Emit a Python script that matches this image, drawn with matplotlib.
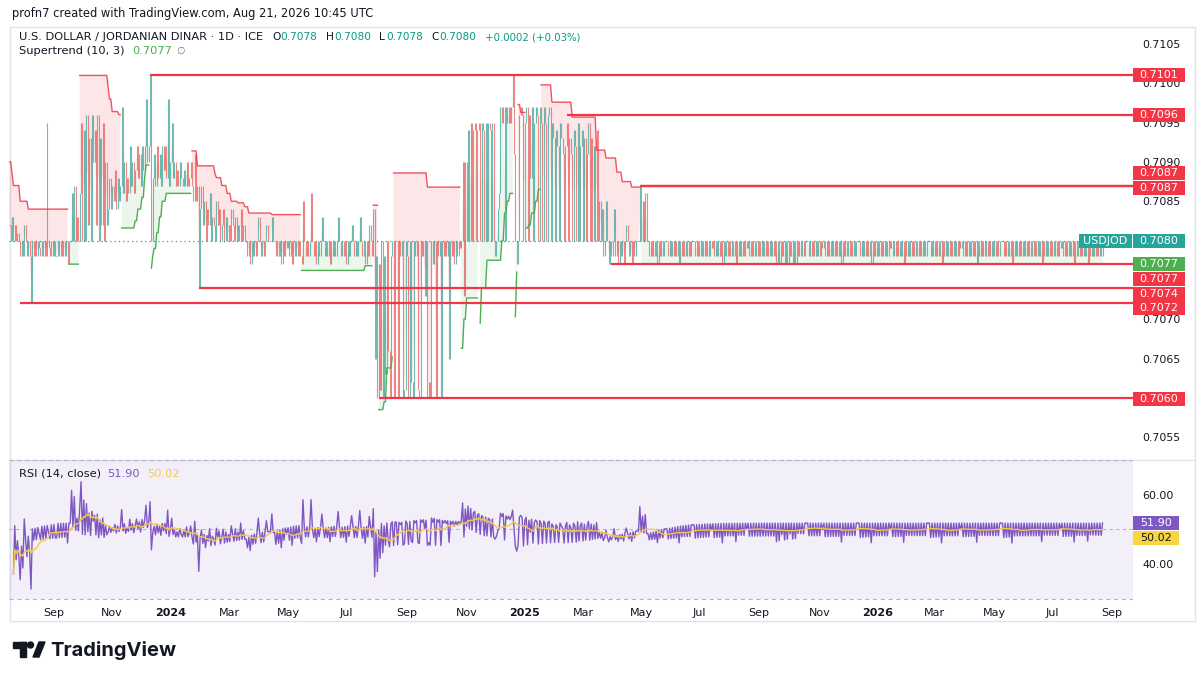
import numpy as np
import pandas as pd
import matplotlib
matplotlib.use("Agg")
import matplotlib.pyplot as plt
from matplotlib.patches import Rectangle, Ellipse, Polygon
from matplotlib.lines import Line2D

plt.rcParams['font.family'] = ['DejaVu Sans']

# daily closes in pips above 0.7000 (open = previous close)
closes_jul_sep23 = [82, 80, 83, 80, 82, 80, 81, 80, 78, 80, 78, 82, 80, 78, 80, 78,
                    72, 80, 78, 80, 78, 80, 79, 78, 80, 78, 80, 78, 80, 79,
                    78, 80, 78, 80, 78, 78, 80, 78, 80, 78, 80, 78, 80, 77, 80]
closes_sep_dec23 = [80, 86, 80, 87, 80, 83, 80, 86, 95, 80,
                    94, 80, 96, 82, 93, 80, 96, 90, 94, 82, 96, 80, 93, 82, 95, 80, 90, 82,
                    84, 88, 84, 87, 85, 89, 84, 88, 85, 87, 97,
                    86, 90, 85, 88, 86, 92, 87, 90, 86, 89, 92, 88, 91, 87, 92, 89, 92, 98,
                    90, 92, 101]
closes_dec23_jan24 = [80, 88, 91, 87, 92, 88, 91, 87, 92, 89, 92, 88, 98, 87, 90, 95,
                      88, 90, 87, 89, 87, 90, 88, 87, 89, 87, 90, 87, 88, 90, 87]
closes_jan_mar24 = [85, 91, 85, 87, 74, 84, 87, 82, 85, 80, 84, 82, 86, 80, 83, 82, 80, 85,
                    82, 84, 80, 82, 84, 80, 83, 80, 82, 80, 84, 82, 80, 83, 80, 82, 80,
                    84, 80, 82, 80]
closes_mar_may24 = [80, 78, 80, 77, 80, 78, 80, 78, 80, 83, 80, 78, 80, 78, 80, 82, 80, 80,
                    80, 83, 80, 80, 78, 80, 78, 80, 77, 80, 78, 80, 79, 80, 78, 80, 77, 80,
                    78, 80, 78, 80, 78, 77]
closes_may_jul24 = [85, 80, 78, 80, 78, 80, 86, 80, 78, 80, 77, 80, 78, 80, 83, 80, 78, 80,
                    78, 80, 77, 80, 78, 80, 78, 80, 83, 80, 78, 80, 78, 80, 77, 80, 78, 80,
                    82, 80, 78, 80, 78, 80, 83, 80, 78, 80, 77, 80, 78, 82, 80, 78]
closes_jul_oct24 = [84, 65, 78, 60, 77, 61, 80, 60, 78, 63, 80, 66, 60, 78, 80, 60, 80,
                    80, 60, 80, 78, 80, 60, 61, 80, 78, 60, 80, 62, 60, 80, 78, 80, 61, 60,
                    80, 78, 80, 73, 80, 60, 62, 60, 80, 77, 80, 60, 80, 78, 80, 60, 80, 78,
                    80, 78, 80, 65, 80, 78, 80, 77, 80, 78, 80, 79, 80]
closes_oct_dec24 = [90, 73, 90, 80, 94, 80, 95, 80, 94, 95, 80, 94, 95, 80, 95, 94, 80, 95,
                    80, 95, 94, 80, 95, 80, 78, 80, 84, 86, 97, 95, 97, 80, 97, 95, 97, 95, 97]
closes_dec24_jan25 = [101, 91, 80, 77, 80, 96, 97, 96, 80, 95, 97, 80, 96, 88, 97, 80, 95,
                      97, 96, 80, 97]
closes_jan_mar25 = [95, 80, 97, 95, 80, 96, 97, 80, 95, 93, 80, 94, 92, 80, 95, 93, 91, 80,
                    92, 95, 80, 93, 91, 80, 94, 92, 80, 95, 80, 92, 94, 80, 93, 80, 91, 95,
                    80, 93, 80, 92, 80, 94]
closes_mar_may25 = [80, 85, 80, 84, 78, 80, 85, 80, 77, 80, 78, 80, 84, 78, 80, 77, 80, 78,
                    80, 77, 80, 82, 80, 78, 80, 77, 80, 78, 80, 80, 80, 87, 80, 85, 80, 86, 80]
# May 2025 - Aug 2026: one digit per bar, pips below 0.7080
dips_may25_aug26 = ("0"
                    "2020203020200020202020302020202000202020"
                    "2020201020202030202020203020202010202020"
                    "2020202020202030302030302030302020200020"
                    "2020202010202020202020302020202020002020"
                    "2020302020202020201020202020302020202020"
                    "2020200020202020302020202020201020202020"
                    "2030202020202020202000202020302020202020"
                    "2020202020302020202020201020202020302020"
                    "2020302020202020")

# single long upper wick
wick_dates = ["2023-08-25"]
wick_highs = [95]

# Supertrend (10, 3) steps
st_dates = ["2023-07-18", "2023-07-20", "2023-07-21", "2023-07-28", "2023-08-07",
            "2023-09-18", "2023-09-28", "2023-10-27", "2023-10-30", "2023-11-01", "2023-11-08",
            "2023-11-10", "2023-11-24", "2023-11-28", "2023-12-01", "2023-12-05", "2023-12-06",
            "2023-12-11", "2023-12-12", "2023-12-13", "2023-12-14", "2023-12-18", "2023-12-20",
            "2023-12-22", "2023-12-27",
            "2024-01-23", "2024-01-29", "2024-02-15", "2024-02-16", "2024-02-22", "2024-02-28",
            "2024-03-04", "2024-03-11", "2024-03-18", "2024-03-21", "2024-04-15",
            "2024-05-15", "2024-07-19", "2024-07-29",
            "2024-08-02", "2024-08-08", "2024-08-12", "2024-08-16",
            "2024-08-19", "2024-09-23",
            "2024-10-28", "2024-10-30", "2024-11-01", "2024-11-14",
            "2024-11-15", "2024-11-18", "2024-11-22", "2024-12-09", "2024-12-11", "2024-12-13",
            "2024-12-17", "2024-12-20", "2024-12-23", "2024-12-24", "2024-12-25", "2024-12-27",
            "2025-01-02", "2025-01-06", "2025-01-08", "2025-01-13", "2025-01-15",
            "2025-01-17", "2025-01-29", "2025-02-19", "2025-03-17", "2025-03-26", "2025-04-07",
            "2025-04-11", "2025-04-22", "2025-05-01"]
st_levels = [90, 88.5, 87, 85, 84,
             77, 101, 99.5, 98, 96.4, 96,
             81.6, 82.5, 84, 85.5, 88, 89.6,
             101, 76.5, 78, 79, 81, 83,
             85, 86,
             91.4, 89.5, 88.5, 88, 87, 86,
             85, 84.8, 84.3, 83.5, 83.3,
             76.2, 76.8, 84.5,
             58.5, 59.5, 63.8, 65.2,
             88.6, 86.8,
             66.3, 70, 72.7, 95,
             69.5, 74, 77.5, 80, 83.5, 85,
             86, 101, 70.3, 76, 97.3, 96.3,
             81.6, 82, 83.5, 85, 86.5,
             99.8, 97.6, 95.7, 91.5, 90.5, 88.7,
             87.5, 86.8, 77]
st_up = [0, 0, 0, 0, 0,
         1, 0, 0, 0, 0, 0,
         1, 1, 1, 1, 1, 1,
         0, 1, 1, 1, 1, 1,
         1, 1,
         0, 0, 0, 0, 0, 0,
         0, 0, 0, 0, 0,
         1, 1, 0,
         1, 1, 1, 1,
         0, 0,
         1, 1, 1, 0,
         1, 1, 1, 1, 1, 1,
         1, 0, 1, 1, 0, 0,
         1, 1, 1, 1, 1,
         0, 0, 0, 0, 0, 0,
         0, 0, 1]

# user-drawn horizontal levels
level_prices = [0.7101, 0.7096, 0.7087, 0.7087, 0.7077, 0.7074, 0.7072, 0.7060]
level_starts = ["2023-12-11", "2025-02-13", "2025-04-30", "2025-04-30", "2025-04-01",
                "2024-01-30", "2023-07-28", "2024-08-02"]

rsi_last, rsi_ma_last = 51.90, 50.02

# ---------------------------------------------------------------- data prep
pips = (closes_jul_sep23 + closes_sep_dec23 + closes_dec23_jan24 + closes_jan_mar24 +
        closes_mar_may24 + closes_may_jul24 + closes_jul_oct24 + closes_oct_dec24 +
        closes_dec24_jan25 + closes_jan_mar25 + closes_mar_may25 +
        [80 - int(ch) for ch in dips_may25_aug26])
close = 0.7 + np.array(pips) / 10000.0
n = len(close)
opn = np.r_[close[0], close[:-1]]
dates = pd.bdate_range("2023-07-18", periods=n)
x = np.arange(n)

st_idx = dates.searchsorted(pd.to_datetime(st_dates))
k = np.searchsorted(st_idx, x, side="right") - 1
st_val = 0.7 + np.array(st_levels)[k] / 10000.0
st_dir = np.array(st_up, dtype=bool)[k]
mid = (opn + close) / 2

s = pd.Series(close)
d = s.diff()
ag = d.clip(lower=0).ewm(alpha=1 / 14, adjust=True, min_periods=3).mean()
al = (-d.clip(upper=0)).ewm(alpha=1 / 14, adjust=True, min_periods=3).mean()
rsi = 100 - 100 / (1 + ag / al)
rsi_ma = rsi.rolling(14, min_periods=1).mean()

# ---------------------------------------------------------------- figure
W, H = 1200, 675
fig = plt.figure(figsize=(12, 6.75), dpi=100)
fig.patch.set_facecolor("white")


def fx(px):
    return px / W


def fy(py):
    return 1 - py / H


UP, DN = "#26a69a", "#ef5350"
RED, GREEN = "#f23645", "#4caf50"
TXT = "#131722"
XR = 830.5

ax = fig.add_axes([fx(9), fy(459), (1133 - 9) / W, (459 - 27) / H])
ax2 = fig.add_axes([fx(9), fy(601), (1133 - 9) / W, (601 - 459) / H], sharex=ax)
for a in (ax, ax2):
    a.set_facecolor("none")
    for sp in a.spines.values():
        sp.set_visible(False)

ax.set_xlim(-0.26, XR)
ax.set_ylim(0.705222, 0.710716)

# supertrend fills and lines
ax.fill_between(x, st_val, mid, where=st_dir, color=(76 / 255, 175 / 255, 80 / 255, 0.10),
                lw=0, zorder=1)
ax.fill_between(x, st_val, mid, where=~st_dir, color=(242 / 255, 54 / 255, 69 / 255, 0.12),
                lw=0, zorder=1)

up = close > opn
dn = close < opn
fl = close == opn
ax.vlines(x[up], opn[up], close[up], color=UP, lw=0.8, alpha=0.7, zorder=2)
ax.vlines(x[dn], close[dn], opn[dn], color=DN, lw=0.8, alpha=0.7, zorder=2)
ax.hlines(close[fl], x[fl] - 0.4, x[fl] + 0.4, color=UP, lw=0.8, alpha=0.7, zorder=2)
w_idx = dates.searchsorted(pd.to_datetime(wick_dates))
ax.vlines(w_idx, np.maximum(opn, close)[w_idx], 0.7 + np.array(wick_highs) / 10000.0,
          color=UP, lw=0.8, alpha=0.7, zorder=2)

ax.plot(x, np.where(st_dir, st_val, np.nan), color=GREEN, lw=1.0, zorder=3)
ax.plot(x, np.where(~st_dir, st_val, np.nan), color=RED, lw=1.0, alpha=0.85, zorder=3)

ax.axhline(close[-1], color=UP, lw=0.9, ls=(0, (1, 2.5)), zorder=2.5)

lv_idx = dates.searchsorted(pd.to_datetime(level_starts))
ax.hlines(level_prices, lv_idx, XR, color=RED, lw=1.6, zorder=4)

# price scale; 0.7080, 0.7075 and 0.7060 sit under the price tags
yt = [0.7055, 0.7065, 0.7070, 0.7085, 0.7090, 0.7095, 0.7100, 0.7105]
ax.set_yticks(yt)
ax.set_yticklabels([f"{v:.4f}" for v in yt])
ax.yaxis.tick_right()
ax.tick_params(axis="y", length=0, pad=6.5, labelsize=7.9, labelcolor=TXT)
ax.tick_params(axis="x", bottom=False, labelbottom=False)

# RSI pane
ax2.set_ylim(29.28, 70.43)
ax2.axhspan(30, 70, color=(126 / 255, 87 / 255, 194 / 255, 0.09), lw=0, zorder=0)
for lvl, style in ((70, (0, (4, 3))), (30, (0, (4, 3))), (50, (0, (3, 3)))):
    ax2.axhline(lvl, color="#b2b5be", lw=0.8, ls=style, zorder=1)
ax2.plot(x, rsi, color="#7e57c2", lw=1.0, zorder=3)
ax2.plot(x, rsi_ma, color="#f7c948", lw=1.0, zorder=4)
ax2.set_yticks([40, 60])
ax2.set_yticklabels(["40.00", "60.00"])
ax2.yaxis.tick_right()
ax2.tick_params(axis="y", length=0, pad=6.5, labelsize=7.9, labelcolor=TXT)

all_days = pd.bdate_range("2023-07-18", "2026-09-30")
tpos, tlab = [], []
for m in pd.date_range("2023-09-01", "2026-09-01", freq="2MS"):
    tpos.append(all_days.searchsorted(m))
    tlab.append(str(m.year) if m.month == 1 else m.strftime("%b"))
ax2.set_xticks(tpos)
ax2.set_xticklabels(tlab)
ax2.tick_params(axis="x", length=0, pad=5, labelsize=8, labelcolor=TXT)
for t in ax2.get_xticklabels():
    if t.get_text().isdigit():
        t.set_fontweight("bold")
ax2.set_xlim(-0.26, XR)

# frame
fig.add_artist(Rectangle((fx(10), fy(621)), (1195 - 10) / W, (621 - 27) / H, fill=False,
                         edgecolor="#e0e3eb", lw=1, transform=fig.transFigure, zorder=0))
fig.add_artist(Line2D([fx(10), fx(1195)], [fy(459.5)] * 2, color="#e0e3eb", lw=1,
                      transform=fig.transFigure, zorder=0))


def tag(a, value, text, face, fg="white", dy=0, x0=1133, w=52, h=14):
    yc = a.transData.transform((0, value))[1] + dy
    fig.add_artist(Rectangle((x0 / W, (yc - h / 2) / H), w / W, h / H, facecolor=face,
                             edgecolor="none", transform=fig.transFigure, zorder=5))
    fig.text((x0 + w / 2) / W, yc / H, text, color=fg, ha="center", va="center",
             fontsize=8, zorder=6)


tag(ax, 0.7101, "0.7101", RED)
tag(ax, 0.7096, "0.7096", RED)
tag(ax, 0.7087, "0.7087", RED, dy=12.5)
tag(ax, 0.7087, "0.7087", RED, dy=-2.5)
tag(ax, close[-1], "0.7080", UP)
tag(ax, close[-1], "USDJOD", UP, x0=1079, w=53)
tag(ax, 0.7077, "0.7077", GREEN)
tag(ax, 0.7077, "0.7077", RED, dy=-14.4)
tag(ax, 0.7074, "0.7074", RED, dy=-5.8)
tag(ax, 0.7072, "0.7072", RED, dy=-4.1)
tag(ax, 0.7060, "0.7060", RED, dy=-1)
tag(ax2, rsi_last, f"{rsi_last:.2f}", "#7e57c2", w=46)
tag(ax2, rsi_ma_last, f"{rsi_ma_last:.2f}", "#f9d53e", fg=TXT, dy=-8.6, w=46)


# texts
def ftext(px, py, s, **kw):
    kw.setdefault("fontsize", 8.2)
    kw.setdefault("color", TXT)
    fig.text(fx(px), fy(py), s, va="center", ha="left", **kw)


ftext(12, 13, "profn7 created with TradingView.com, Aug 21, 2026 10:45 UTC", fontsize=8.3)
ftext(19, 37, "U.S. DOLLAR / JORDANIAN DINAR · 1D · ICE")
VAL = "#089981"
for px, lab, val in ((272, "O", "0.7078"), (326, "H", "0.7080"), (379, "L", "0.7078"),
                     (431, "C", "0.7080")):
    ftext(px, 37, lab, fontsize=7.6)
    ftext(px + (8 if lab != "L" else 7), 37, val, color=VAL, fontsize=7.55)
ftext(485, 37, "+0.0002 (+0.03%)", color=VAL, fontsize=7.25)
ftext(19, 51, "Supertrend (10, 3)")
ftext(132, 51, "0.7077", color=GREEN)
ftext(176, 51, "∅", color="#787b86", fontsize=7)
ftext(19, 474, "RSI (14, close)")
ftext(107, 474, f"{rsi_last:.2f}", color="#7e57c2")
ftext(147, 474, f"{rsi_ma_last:.2f}", color="#f7c948")

# TradingView logo
fig.add_artist(Rectangle((fx(13), fy(648)), 13 / W, 6 / H, color="#131722",
                         transform=fig.transFigure))
fig.add_artist(Rectangle((fx(20), fy(657)), 6 / W, 15 / H, color="#131722",
                         transform=fig.transFigure))
fig.add_artist(Ellipse((fx(30.5), fy(645)), 6 / W, 6 / H, color="#131722",
                       transform=fig.transFigure))
fig.add_artist(Polygon([(fx(33), fy(657)), (fx(39), fy(642)), (fx(45), fy(642)),
                        (fx(39), fy(657))], closed=True, color="#131722",
                       transform=fig.transFigure))
fig.text(fx(50), fy(650), "TradingView", fontsize=14.5, fontweight="bold",
         family=["Inter", "DejaVu Sans"], color="#131722", va="center", ha="left")

fig.savefig("out.png", dpi=100)
